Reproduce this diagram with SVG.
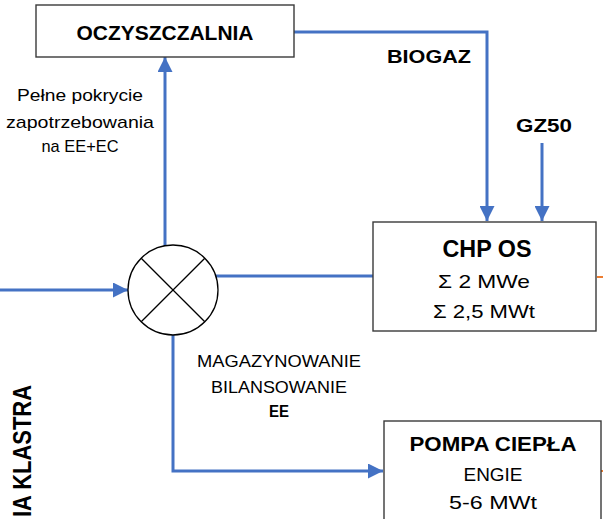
<svg xmlns="http://www.w3.org/2000/svg" width="603" height="519" viewBox="0 0 603 519">
<style>
.box{fill:#fff;stroke:#3a3a3a;stroke-width:1.4}
.ln{fill:none;stroke:#4472C4;stroke-width:3}
.t{font-family:"Liberation Sans",Arial,sans-serif;fill:#000;text-anchor:middle}
.b{font-weight:bold}
.mix{fill:#fff;stroke:#000;stroke-width:1.3}
.or{stroke:#ED7D31;stroke-width:2}
</style>
<defs>
<marker id="ah" markerWidth="5" markerHeight="5" refX="5" refY="2.5" orient="auto" markerUnits="strokeWidth">
<path d="M0,0 L5,2.5 L0,5 Z" fill="#4472C4"/>
</marker>
</defs>
<rect width="603" height="519" fill="#fff"/>
<g id="connectors">
<path class="ln" d="M294,32 H487 V221" marker-end="url(#ah)"/>
<path class="ln" d="M542,143 V221" marker-end="url(#ah)"/>
<path class="ln" d="M165,246 V57" marker-end="url(#ah)"/>
<path class="ln" d="M0,290 H128" marker-end="url(#ah)"/>
<path class="ln" d="M215,276 H373"/>
<path class="ln" d="M173,335 V471 H383" marker-end="url(#ah)"/>
<line class="or" x1="597" y1="277" x2="603" y2="277"/>
<line class="or" x1="601" y1="471" x2="603" y2="471"/>
</g>
<g id="oczyszczalnia">
<rect class="box" x="36" y="5" width="258" height="52"/>
<text class="t b" x="165" y="40" font-size="21" textLength="177" lengthAdjust="spacingAndGlyphs">OCZYSZCZALNIA</text>
</g>
<g id="chp">
<rect class="box" x="373" y="222" width="223" height="109"/>
<text class="t b" x="487" y="257" font-size="23" textLength="89" lengthAdjust="spacingAndGlyphs">CHP OS</text>
<text class="t" x="484" y="288" font-size="19" textLength="92" lengthAdjust="spacingAndGlyphs">Σ 2 MWe</text>
<text class="t" x="484" y="318" font-size="19" textLength="102" lengthAdjust="spacingAndGlyphs">Σ 2,5 MWt</text>
</g>
<g id="pompa">
<rect class="box" x="384" y="421" width="217" height="110"/>
<text class="t b" x="493" y="451" font-size="21" textLength="167" lengthAdjust="spacingAndGlyphs">POMPA CIEPŁA</text>
<text class="t" x="493" y="481" font-size="19" textLength="59" lengthAdjust="spacingAndGlyphs">ENGIE</text>
<text class="t" x="493" y="509" font-size="19" textLength="88" lengthAdjust="spacingAndGlyphs">5-6 MWt</text>
</g>
<g id="mixer">
<circle class="mix" cx="173" cy="290" r="45"/>
<line class="mix" x1="141.2" y1="258.2" x2="204.8" y2="321.8"/>
<line class="mix" x1="204.8" y1="258.2" x2="141.2" y2="321.8"/>
</g>
<g id="labels">
<text class="t b" x="429" y="63" font-size="19" textLength="84" lengthAdjust="spacingAndGlyphs">BIOGAZ</text>
<text class="t b" x="544" y="132" font-size="19" textLength="56" lengthAdjust="spacingAndGlyphs">GZ50</text>
<text class="t" x="80" y="101" font-size="17" textLength="126" lengthAdjust="spacingAndGlyphs">Pełne pokrycie</text>
<text class="t" x="80" y="128" font-size="17" textLength="148" lengthAdjust="spacingAndGlyphs">zapotrzebowania</text>
<text class="t" x="80" y="152" font-size="17" textLength="77" lengthAdjust="spacingAndGlyphs">na EE+EC</text>
<text class="t" x="279" y="367" font-size="17" textLength="164" lengthAdjust="spacingAndGlyphs">MAGAZYNOWANIE</text>
<text class="t" x="279" y="393" font-size="17" textLength="136" lengthAdjust="spacingAndGlyphs">BILANSOWANIE</text>
<text class="t b" x="279" y="417" font-size="16" textLength="20" lengthAdjust="spacingAndGlyphs">EE</text>
<text class="t b" transform="translate(31,451) rotate(-90)" font-size="25" textLength="132" lengthAdjust="spacingAndGlyphs">IA KLASTRA</text>
</g>
</svg>
